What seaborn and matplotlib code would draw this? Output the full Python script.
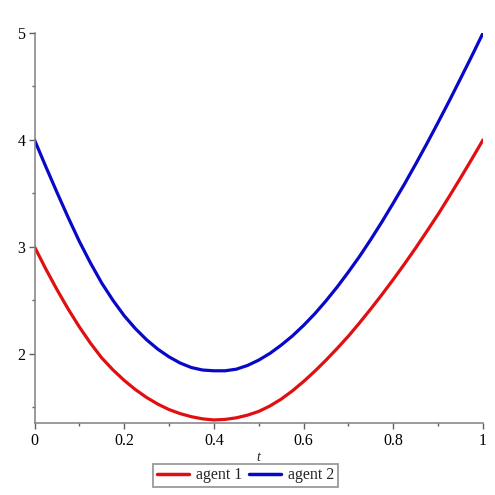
import matplotlib
matplotlib.use("Agg")
import matplotlib.pyplot as plt
import pandas as pd
import seaborn as sns
from matplotlib.ticker import MultipleLocator

# values
t = [0.0, 0.025, 0.05, 0.075, 0.10, 0.125, 0.15, 0.175, 0.20, 0.225, 0.25,
     0.275, 0.30, 0.325, 0.35, 0.375, 0.40, 0.425, 0.45, 0.475, 0.50,
     0.525, 0.55, 0.575, 0.60, 0.625, 0.65, 0.675, 0.70, 0.725, 0.75,
     0.775, 0.80, 0.825, 0.85, 0.875, 0.90, 0.925, 0.95, 0.975, 1.0]
agent1 = [3.00, 2.794, 2.60, 2.418, 2.25, 2.097, 1.96, 1.848, 1.75, 1.664, 1.59,
          1.528, 1.477, 1.439, 1.41, 1.39, 1.38, 1.385, 1.40, 1.425, 1.46,
          1.511, 1.575, 1.652, 1.74, 1.836, 1.94, 2.05, 2.165, 2.29, 2.42,
          2.555, 2.695, 2.84, 2.99, 3.146, 3.305, 3.473, 3.645, 3.821, 4.00]
agent2 = [4.00, 3.752, 3.51, 3.275, 3.05, 2.847, 2.66, 2.499, 2.355, 2.234, 2.13,
          2.042, 1.97, 1.912, 1.87, 1.847, 1.84, 1.84, 1.855, 1.89, 1.94,
          2.003, 2.08, 2.166, 2.265, 2.374, 2.495, 2.625, 2.765, 2.912, 3.07,
          3.236, 3.41, 3.588, 3.775, 3.967, 4.165, 4.367, 4.575, 4.785, 5.00]

labels = ["agent 1", "agent 2"]
colors = ["#e01010", "#0808c8"]

df = pd.concat([
    pd.DataFrame({"t": t, "value": agent1, "agent": labels[0]}),
    pd.DataFrame({"t": t, "value": agent2, "agent": labels[1]}),
])

sns.set_theme(style="white")
plt.rcParams["font.family"] = ["Liberation Serif", "DejaVu Serif"]

fig = plt.figure(figsize=(4.95, 4.95), dpi=100)
ax = fig.add_axes([0.0697, 0.146, 0.9061, 0.7873])

sns.lineplot(data=df, x="t", y="value", hue="agent", palette=colors,
             linewidth=2.3, ax=ax, sort=True, estimator=None)

ax.set_xlim(0, 1)
ax.set_ylim(1.354, 5)

for side in ["top", "right"]:
    ax.spines[side].set_visible(False)
for side in ["left", "bottom"]:
    ax.spines[side].set_color("#808080")
    ax.spines[side].set_linewidth(1.1)

ax.xaxis.set_minor_locator(MultipleLocator(0.1))
ax.yaxis.set_minor_locator(MultipleLocator(0.5))
ax.set_xticks([0, 0.2, 0.4, 0.6, 0.8, 1.0])
ax.set_xticklabels(["0", "0.2", "0.4", "0.6", "0.8", "1"])
ax.set_yticks([2, 3, 4, 5])
ax.set_yticklabels(["2", "3", "4", "5"])

ax.tick_params(axis="x", which="major", pad=3.5)
ax.tick_params(axis="y", which="major", pad=2.5)
ax.tick_params(which="major", direction="out", length=4, width=1, color="#606060",
               labelsize=11.5, labelcolor="black", left=True, bottom=True)
ax.tick_params(which="minor", direction="out", length=2.5, width=1, color="#606060",
               left=True, bottom=True)

ax.set_xlabel("t", fontsize=10, style="italic", labelpad=1)
ax.set_ylabel("")

ax.legend_.remove()
handles, _ = ax.get_legend_handles_labels()
leg = fig.legend(handles, labels, loc="center", bbox_to_anchor=(0.496, 0.0394),
                 ncol=2, fontsize=11.5, frameon=True, fancybox=False,
                 handlelength=2.0, handletextpad=0.45, columnspacing=0.4,
                 borderpad=0.25, borderaxespad=0)
leg.get_frame().set_edgecolor("#808080")
leg.get_frame().set_linewidth(1.3)
for line in leg.get_lines():
    line.set_linewidth(2.5)

fig.savefig("out.png", dpi=100)
